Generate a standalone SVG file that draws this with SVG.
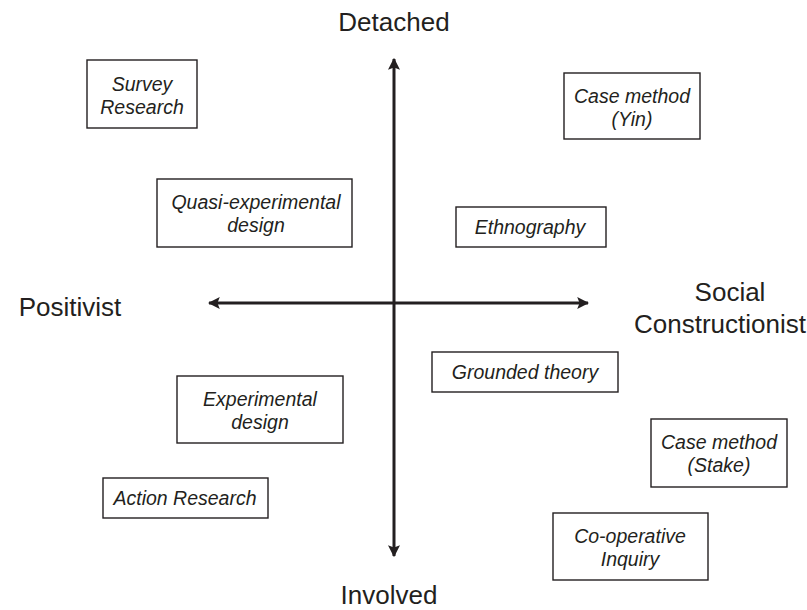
<svg xmlns="http://www.w3.org/2000/svg" width="807" height="610" viewBox="0 0 807 610">
  <style>
    .box { fill: #ffffff; stroke: #231f20; stroke-width: 1.4; }
    .lbl { font-family: "Liberation Sans", Arial, sans-serif; font-style: italic; font-size: 19.5px; fill: #231f20; text-anchor: middle; }
    .axis-lbl { font-family: "Liberation Sans", Arial, sans-serif; font-size: 26px; fill: #231f20; text-anchor: middle; }
    .axis { stroke: #231f20; stroke-width: 3; fill: none; }
  </style>
  <defs>
    <marker id="arrow" viewBox="0 0 10 10" refX="9" refY="5" markerWidth="4" markerHeight="4" orient="auto-start-reverse" markerUnits="strokeWidth">
      <path d="M0,0 L10,5 L0,10 L2,5 Z" fill="#231f20"/>
    </marker>
  </defs>
  <rect width="807" height="610" fill="#ffffff"/>

  <!-- the two crossing axes -->
  <g id="connectors">
    <line class="axis" x1="394" y1="59" x2="394" y2="556" marker-start="url(#arrow)" marker-end="url(#arrow)"/>
    <line class="axis" x1="209" y1="303" x2="588" y2="303" marker-start="url(#arrow)" marker-end="url(#arrow)"/>
  </g>

  <!-- axis end labels -->
  <g id="axis-detached"><text class="axis-lbl" x="394" y="31">Detached</text></g>
  <g id="axis-involved"><text class="axis-lbl" x="389" y="604">Involved</text></g>
  <g id="axis-positivist"><text class="axis-lbl" x="70" y="316">Positivist</text></g>
  <g id="axis-social"><text class="axis-lbl" x="730" y="301">Social</text><text class="axis-lbl" x="720" y="333">Constructionist</text></g>

  <!-- method boxes -->
  <g id="survey-research">
    <rect class="box" x="87" y="60" width="110" height="68"/>
    <text class="lbl" x="142" y="91">Survey</text>
    <text class="lbl" x="142" y="114">Research</text>
  </g>
  <g id="quasi-experimental">
    <rect class="box" x="157" y="179" width="195" height="68"/>
    <text class="lbl" x="256" y="209">Quasi-experimental</text>
    <text class="lbl" x="256" y="232">design</text>
  </g>
  <g id="case-yin">
    <rect class="box" x="564" y="73" width="136" height="66"/>
    <text class="lbl" x="632" y="103">Case method</text>
    <text class="lbl" x="632" y="126">(Yin)</text>
  </g>
  <g id="ethnography">
    <rect class="box" x="456" y="207" width="150" height="40"/>
    <text class="lbl" x="530" y="234">Ethnography</text>
  </g>
  <g id="grounded-theory">
    <rect class="box" x="432" y="352" width="186" height="40"/>
    <text class="lbl" x="525" y="379">Grounded theory</text>
  </g>
  <g id="experimental">
    <rect class="box" x="177" y="376" width="166" height="67"/>
    <text class="lbl" x="260" y="406">Experimental</text>
    <text class="lbl" x="260" y="429">design</text>
  </g>
  <g id="case-stake">
    <rect class="box" x="651" y="419" width="136" height="68"/>
    <text class="lbl" x="719" y="449">Case method</text>
    <text class="lbl" x="719" y="472">(Stake)</text>
  </g>
  <g id="action-research">
    <rect class="box" x="103" y="478" width="165" height="40"/>
    <text class="lbl" x="185" y="505">Action Research</text>
  </g>
  <g id="co-operative">
    <rect class="box" x="553" y="513" width="155" height="67"/>
    <text class="lbl" x="630" y="543">Co-operative</text>
    <text class="lbl" x="630" y="566">Inquiry</text>
  </g>
</svg>
